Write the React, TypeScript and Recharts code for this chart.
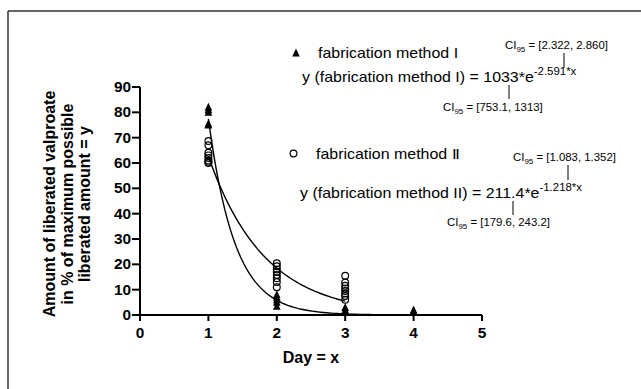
import React from 'react';
import { ComposedChart, Scatter, XAxis, YAxis, Customized } from 'recharts';

// ---- data ----
const methodIDays = [1, 1, 1, 1, 1, 2, 2, 2, 2, 2, 3, 3, 3, 3, 4, 4];
const methodIValues = [82, 81, 80, 75.5, 75, 8, 7, 6, 5, 3.5, 3, 2, 1, 0.5, 2, 1.5];

const methodIIDays = [1, 1, 1, 1, 1, 1, 1, 1, 2, 2, 2, 2, 2, 2, 2, 2, 3, 3, 3, 3, 3, 3, 3, 3];
const methodIIValues = [
  68.7, 67, 64, 63, 62, 61, 60.5, 60,
  20.4, 19.2, 18, 17, 15.8, 14.5, 13, 11,
  15.5, 12.8, 11.5, 10.5, 9.5, 8.5, 7.5, 6,
];

// fitted models printed in the figure: y = a * e^(-k*x)
const fitIParams = { a: 1033, k: 2.591, xStart: 1, xEnd: 3.4 };
const fitIIParams = { a: 211.4, k: 1.218, xStart: 1, xEnd: 3 };

const xTicks = [0, 1, 2, 3, 4, 5];
const yTicks = [0, 10, 20, 30, 40, 50, 60, 70, 80, 90];

const legendI = 'fabrication method I';
const legendII = 'fabrication method \u2161';
const eqI = { main: 'y (fabrication method I) = 1033*e', exp: '-2.591*x' };
const eqII = { main: 'y (fabrication method II) = 211.4*e', exp: '-1.218*x' };
const ciI = { top: ' = [2.322, 2.860]', bottom: ' = [753.1, 1313]' };
const ciII = { top: ' = [1.083, 1.352]', bottom: ' = [179.6, 243.2]' };
const xTitle = 'Day = x';
const yTitleLines = ['Amount of liberated valproate', 'in % of maximum possible', 'liberated amount = y'];

const pointsI = methodIDays.map((d, i) => ({ x: d, y: methodIValues[i] }));
const pointsII = methodIIDays.map((d, i) => ({ x: d, y: methodIIValues[i] }));

function fitCurve(p: { a: number; k: number; xStart: number; xEnd: number }) {
  const pts: { x: number; y: number }[] = [];
  const n = Math.round((p.xEnd - p.xStart) / 0.04);
  for (let i = 0; i <= n; i++) {
    const x = p.xStart + ((p.xEnd - p.xStart) * i) / n;
    pts.push({ x, y: p.a * Math.exp(-p.k * x) });
  }
  return pts;
}
const curveI = fitCurve(fitIParams);
const curveII = fitCurve(fitIIParams);

const FONT = '"Liberation Sans", Arial, Helvetica, sans-serif';
const SX = 1.14;

const Triangle = (props: any) => {
  const { cx, cy } = props;
  if (cx == null || cy == null) return <g />;
  return <polygon points={`${cx},${cy - 4.5} ${cx - 3.8},${cy + 3.5} ${cx + 3.8},${cy + 3.5}`} fill="#000" />;
};
const Circle = (props: any) => {
  const { cx, cy } = props;
  if (cx == null || cy == null) return <g />;
  return <circle cx={cx} cy={cy} r={3.4} fill="none" stroke="#000" strokeWidth={1.2} />;
};
const NoShape = () => <g />;

const YTick = (props: any) => {
  const { x, y, payload } = props;
  return (
    <text transform={`translate(${x} ${y}) scale(1.1 1)`} textAnchor="end" dy="0.36em"
      fontFamily={FONT} fontWeight="bold" fontSize={14} fill="#000">
      {payload.value}
    </text>
  );
};
const XTick = (props: any) => {
  const { x, y, payload } = props;
  return (
    <text transform={`translate(${x} ${y}) scale(1.1 1)`} textAnchor="middle" dy="0.71em"
      fontFamily={FONT} fontWeight="bold" fontSize={14} fill="#000">
      {payload.value}
    </text>
  );
};

const SText = ({ x, y, size, children }: any) => (
  <text transform={`translate(${x} ${y}) scale(${SX} 1)`} fontFamily={FONT} fontSize={size} fill="#000">
    {children}
  </text>
);

const CI = ({ x, y, rest }: any) => (
  <SText x={x} y={y} size={10}>
    CI<tspan dy={2.5} fontSize={7}>95</tspan>
    <tspan dy={-2.5}>{rest}</tspan>
  </SText>
);

const Eq = ({ x, y, main, exp }: any) => (
  <SText x={x} y={y} size={14}>
    {main}
    <tspan dy={-7} fontSize={10}>{exp}</tspan>
  </SText>
);

const Annotations = () => (
  <g>
    {/* frame */}
    <line x1={8} y1={11} x2={641} y2={11} stroke="#333" strokeWidth={1.5} />
    <line x1={8} y1={11} x2={8} y2={389} stroke="#333" strokeWidth={1.5} />

    {/* y title */}
    {yTitleLines.map((t, i) => {
      const bx = 55 + i * 17.5;
      return (
        <text key={i} x={bx} y={204} transform={`rotate(-90 ${bx} 204)`} textAnchor="middle"
          fontFamily={FONT} fontWeight="bold" fontSize={16} fill="#000">
          {t}
        </text>
      );
    })}

    {/* legend I */}
    <polygon points="296,48.5 292.2,56.5 299.8,56.5" fill="#000" />
    <SText x={318} y={58} size={14}>{legendI}</SText>
    <CI x={505} y={49} rest={ciI.top} />
    <line x1={564} y1={53} x2={564} y2={68} stroke="#000" strokeWidth={1} />
    <Eq x={302} y={82} main={eqI.main} exp={eqI.exp} />
    <line x1={509} y1={85} x2={509} y2={99} stroke="#000" strokeWidth={1} />
    <CI x={443} y={111} rest={ciI.bottom} />

    {/* legend II */}
    <circle cx={293.5} cy={153.5} r={3.4} fill="none" stroke="#000" strokeWidth={1.2} />
    <SText x={316} y={158.5} size={14}>{legendII}</SText>
    <CI x={513} y={161} rest={ciII.top} />
    <line x1={568} y1={165} x2={568} y2={180} stroke="#000" strokeWidth={1} />
    <Eq x={300} y={198} main={eqII.main} exp={eqII.exp} />
    <line x1={513} y1={201} x2={513} y2={215} stroke="#000" strokeWidth={1} />
    <CI x={447} y={226} rest={ciII.bottom} />
  </g>
);

export default function App() {
  return (
    <div style={{ position: 'absolute', left: 0, top: 0, width: 641, height: 389, background: '#fff' }}>
      <ComposedChart width={641} height={389} margin={{ top: 87, right: 159, bottom: 44, left: 100 }}>
        <XAxis type="number" dataKey="x" domain={[0, 5]} ticks={xTicks} allowDataOverflow
          axisLine={{ stroke: '#000', strokeWidth: 2 }} tickLine={{ stroke: '#000', strokeWidth: 2 }}
          tickSize={6} tickMargin={7} height={30} tick={<XTick />}
          label={{ value: xTitle, position: 'insideBottom', offset: -18, fontFamily: FONT, fontWeight: 'bold', fontSize: 16, fill: '#000' }} />
        <YAxis type="number" dataKey="y" domain={[0, 90]} ticks={yTicks} allowDataOverflow
          axisLine={{ stroke: '#000', strokeWidth: 2 }} tickLine={{ stroke: '#000', strokeWidth: 2 }}
          tickSize={8} tickMargin={1} width={40} tick={<YTick />} />
        <Scatter data={curveI} line={{ stroke: '#000', strokeWidth: 1.4 }} shape={NoShape} isAnimationActive={false} />
        <Scatter data={curveII} line={{ stroke: '#000', strokeWidth: 1.4 }} shape={NoShape} isAnimationActive={false} />
        <Scatter data={pointsII} shape={Circle} isAnimationActive={false} />
        <Scatter data={pointsI} shape={Triangle} isAnimationActive={false} />
        <Customized component={Annotations} />
      </ComposedChart>
    </div>
  );
}
